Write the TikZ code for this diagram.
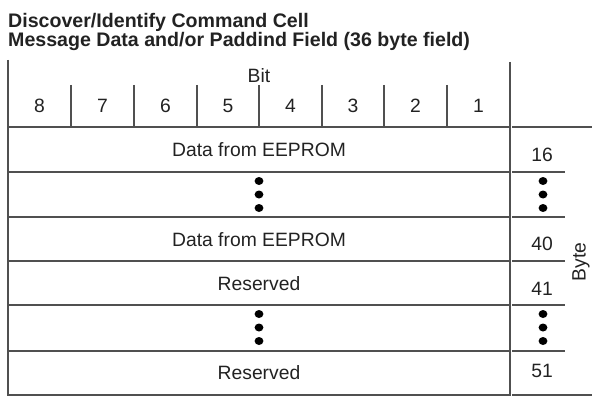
\documentclass[tikz,border=0pt]{standalone}
\usepackage{fontspec}
\setmainfont{Liberation Sans}
\usetikzlibrary{shapes.geometric}
\definecolor{ln}{HTML}{505050}
\definecolor{tx}{HTML}{222222}
\begin{document}
\begin{tikzpicture}[x=1pt,y=-1pt,
  rule/.style={draw=ln,line width=1.2pt},
  lbl/.style={inner sep=0pt,text=tx,font=\fontsize{19.3}{22}\selectfont},
  ttl/.style={inner sep=0pt,anchor=base west,text=tx,font=\fontsize{19.6}{22}\selectfont\bfseries},
  dot/.style={ellipse,fill=black,inner sep=0pt,minimum width=8.8pt,minimum height=8pt}]
\useasboundingbox (0,0) rectangle (592,396);
% title
\node[ttl] (t1) at (8,27.7) {Discover/Identify Command Cell};
\node[ttl] (t2) at (8,46.7) {Message Data and/or Paddind Field (36 byte field)};
% outer verticals
\draw[rule] (8,60) -- (8,395.5);
\draw[rule] (510,62) -- (510,395.5);
% bit column separators
\foreach \x in {71,134,197,259,322,384,447}
  \draw[rule] (\x,85) -- (\x,126);
% table rows
\foreach \y in {127,172,217,261,305,351,395}
  \draw[rule] (8,\y) -- (510,\y);
% right column rules
\draw[rule] (512,127) -- (592,127);
\foreach \y in {172,217,261,305,351}
  \draw[rule] (512,\y) -- (565,\y);
\draw[rule] (512,395) -- (592,395);
% header
\node[lbl,anchor=base] (bit) at (259,82) {Bit};
\foreach \d/\x in {8/39.5,7/102.5,6/165.5,5/228,4/290.5,3/353,2/415.5,1/478.5}
  \node[lbl,anchor=base] (b\d) at (\x,113) {\d};
% row texts
\node[lbl,anchor=base] (r1) at (259,156.5) {Data from EEPROM};
\node[lbl,anchor=base] (r3) at (259,246) {Data from EEPROM};
\node[lbl,anchor=base] (r4) at (259,290) {Reserved};
\node[lbl,anchor=base] (r6) at (259,379.5) {Reserved};
% dots
\foreach \n/\y in {a/181,b/194.5,c/208}{
  \node[dot] (ld1\n) at (259,\y) {};
  \node[dot] (rd1\n) at (543,\y) {};
}
\foreach \n/\y in {a/314,b/327.5,c/341}{
  \node[dot] (ld2\n) at (259,\y) {};
  \node[dot] (rd2\n) at (543,\y) {};
}
% byte numbers
\node[lbl,anchor=base] (n16) at (542,161) {16};
\node[lbl,anchor=base] (n40) at (542,250) {40};
\node[lbl,anchor=base] (n41) at (542,295) {41};
\node[lbl,anchor=base] (n51) at (542,377) {51};
\node[lbl,rotate=90] (byte) at (581,262) {Byte};
\end{tikzpicture}
\end{document}
